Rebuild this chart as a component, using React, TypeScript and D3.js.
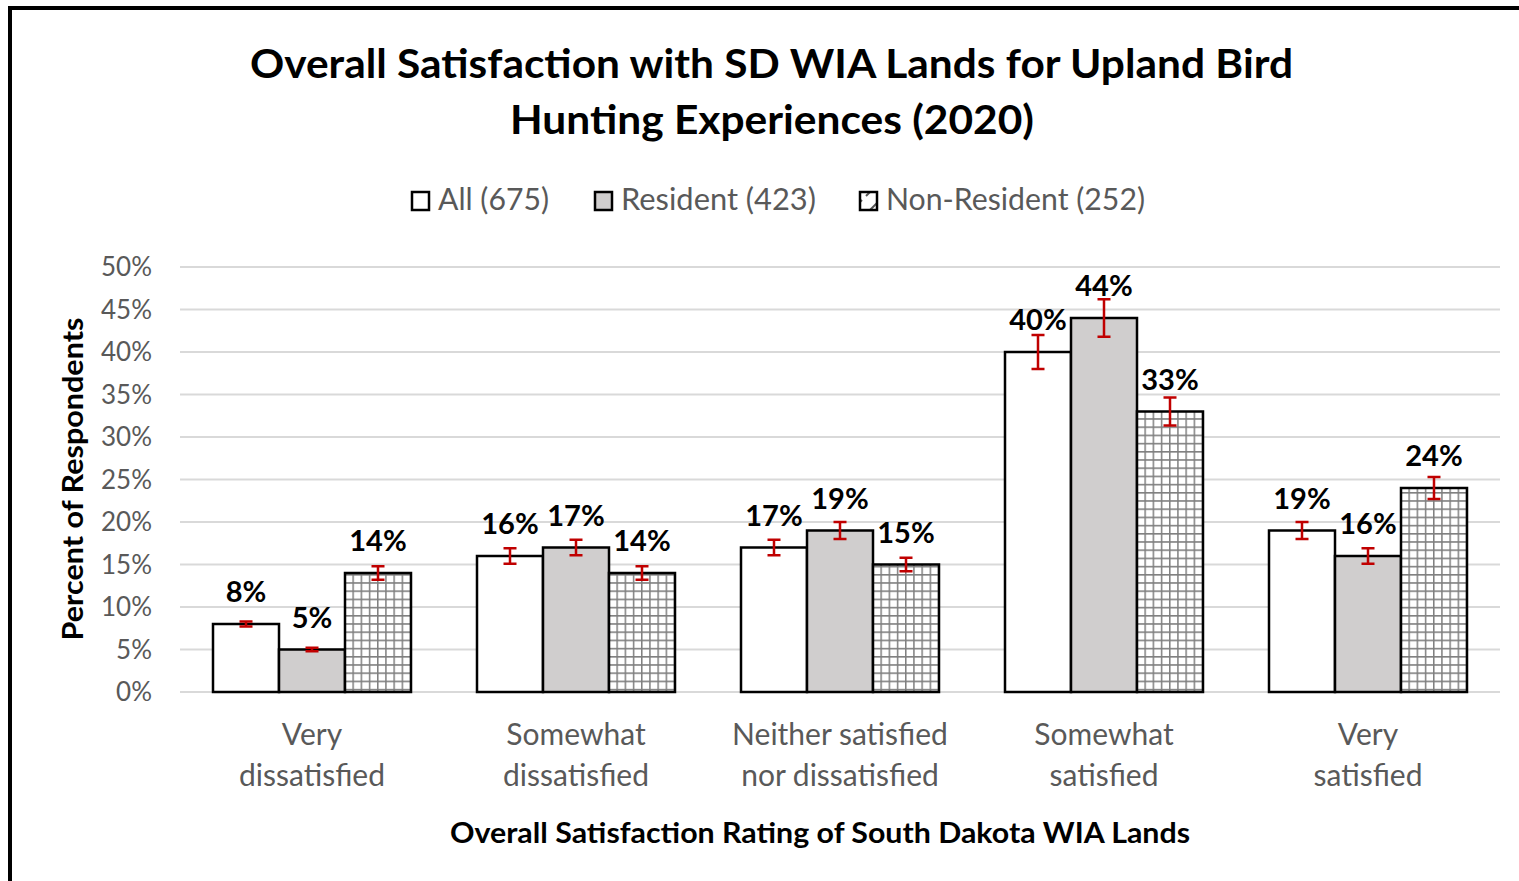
import React from "react";
import * as d3 from "d3";

const categories: string[][] = [
  ["Very", "dissatisfied"],
  ["Somewhat", "dissatisfied"],
  ["Neither satisfied", "nor dissatisfied"],
  ["Somewhat", "satisfied"],
  ["Very", "satisfied"],
];
const seriesNames = ["All (675)", "Resident (423)", "Non-Resident (252)"];
const allValues = [8, 16, 17, 40, 19];
const residentValues = [5, 17, 19, 44, 16];
const nonResidentValues = [14, 14, 15, 33, 24];
const allErrors = [0.3, 0.9, 0.9, 2.0, 1.0];
const residentErrors = [0.2, 0.9, 1.0, 2.2, 0.9];
const nonResidentErrors = [0.8, 0.8, 0.8, 1.65, 1.3];
const yTicks = [0, 5, 10, 15, 20, 25, 30, 35, 40, 45, 50];

const W = 1519;
const H = 881;
const FONT = "Lato, 'Open Sans', sans-serif";

export default function App() {
  const x0 = d3
    .scaleBand<number>()
    .domain(d3.range(categories.length))
    .range([180, 1500])
    .paddingInner(0.25)
    .paddingOuter(0.125);
  const x1 = d3
    .scaleBand<number>()
    .domain([0, 1, 2])
    .range([0, x0.bandwidth()])
    .padding(0);
  const y = d3.scaleLinear().domain([0, 50]).range([692, 267]);

  const series = [
    { name: seriesNames[0], values: allValues, errors: allErrors, fill: "#ffffff" },
    { name: seriesNames[1], values: residentValues, errors: residentErrors, fill: "#d0cece" },
    { name: seriesNames[2], values: nonResidentValues, errors: nonResidentErrors, fill: "url(#grid)" },
  ];

  const legendX = [411, 594, 859];
  const legendLen = [111, 195, 259];

  return (
    <svg
      width={W}
      height={H}
      style={{ position: "absolute", left: 0, top: 0, background: "#fff" }}
      fontFamily={FONT}
    >
      <defs>
        <pattern id="grid" patternUnits="userSpaceOnUse" width={8.2} height={8.2} x={0} y={0}>
          <rect width={8.2} height={8.2} fill="#ffffff" />
          <path d="M0,0.75H8.2M0.75,0V8.2" stroke="#7f7f7f" strokeWidth={1.5} />
        </pattern>
        <pattern id="diag" patternUnits="userSpaceOnUse" width={18} height={18}>
          <rect width={18} height={18} fill="#ffffff" />
          <path d="M2,16L16,2" stroke="#555" strokeWidth={2} />
        </pattern>
      </defs>
      <rect x={0} y={0} width={W} height={H} fill="#ffffff" />
      {/* frame */}
      <rect x={10} y={8} width={W + 40} height={H + 40} fill="none" stroke="#000" strokeWidth={4} />

      {/* title */}
      <text x={771.5} y={78} textAnchor="middle" fontWeight="bold" fontSize={40} fill="#000" textLength={1043} lengthAdjust="spacingAndGlyphs">
        Overall Satisfaction with SD WIA Lands for Upland Bird
      </text>
      <text x={772} y={134} textAnchor="middle" fontWeight="bold" fontSize={40} fill="#000" textLength={524} lengthAdjust="spacingAndGlyphs">
        Hunting Experiences (2020)
      </text>

      {/* legend */}
      {series.map((s, i) => (
        <g key={s.name}>
          <rect
            x={legendX[i] + 1}
            y={192}
            width={17}
            height={18}
            fill={i === 2 ? "url(#diag)" : s.fill}
            stroke="#000"
            strokeWidth={2.5}
          />
          <text
            x={legendX[i] + 27}
            y={210}
            fontSize={30}
            fill="#595959"
            textLength={legendLen[i]}
            lengthAdjust="spacingAndGlyphs"
          >
            {s.name}
          </text>
        </g>
      ))}

      {/* gridlines */}
      {yTicks.map((t) => (
        <line key={t} x1={180} x2={1500} y1={y(t)} y2={y(t)} stroke="#d9d9d9" strokeWidth={2} />
      ))}
      {yTicks.map((t) => (
        <text key={"l" + t} x={152} y={y(t) + 9} textAnchor="end" fontSize={26} fill="#595959">
          {t + "%"}
        </text>
      ))}

      {/* bars */}
      {categories.map((c, ci) => (
        <g key={ci} transform={`translate(${x0(ci)},0)`}>
          {series.map((s, si) => {
            const bx = x1(si)!;
            const bw = x1.bandwidth();
            const v = s.values[ci];
            const e = s.errors[ci];
            const cx = bx + bw / 2;
            return (
              <g key={si}>
                <rect x={bx} y={y(v)} width={bw} height={y(0) - y(v)} fill={s.fill} stroke="#000" strokeWidth={2.5} />
                <path
                  d={`M${cx},${y(v - e)}V${y(v + e)}M${cx - 6.5},${y(v - e)}H${cx + 6.5}M${cx - 6.5},${y(v + e)}H${cx + 6.5}`}
                  stroke="#c00000"
                  strokeWidth={2.5}
                  fill="none"
                />
                <text x={cx} y={y(v) - 22} textAnchor="middle" fontSize={29} fontWeight="bold" fill="#000">
                  {v + "%"}
                </text>
              </g>
            );
          })}
        </g>
      ))}

      {/* category labels */}
      {categories.map((c, ci) => (
        <g key={"c" + ci}>
          {c.map((line, li) => (
            <text
              key={li}
              x={x0(ci)! + x0.bandwidth() / 2}
              y={745 + li * 41}
              textAnchor="middle"
              fontSize={30}
              fill="#595959"
            >
              {line}
            </text>
          ))}
        </g>
      ))}

      {/* axis titles */}
      <text
        transform="translate(83,479) rotate(-90)"
        textAnchor="middle"
        fontSize={28}
        fontWeight="bold"
        fill="#000"
        textLength={323}
        lengthAdjust="spacingAndGlyphs"
      >
        Percent of Respondents
      </text>
      <text
        x={820}
        y={843}
        textAnchor="middle"
        fontSize={28}
        fontWeight="bold"
        fill="#000"
        textLength={740}
        lengthAdjust="spacingAndGlyphs"
      >
        Overall Satisfaction Rating of South Dakota WIA Lands
      </text>
    </svg>
  );
}
